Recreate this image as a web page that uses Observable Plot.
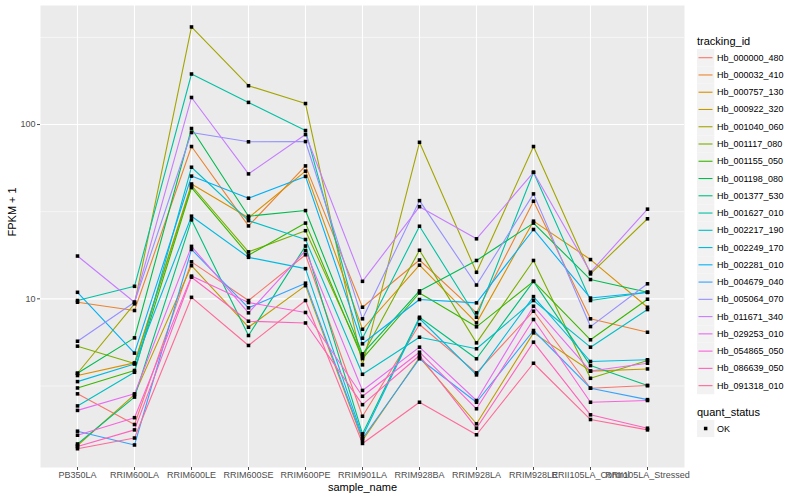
<!DOCTYPE html>
<html>
<head>
<meta charset="utf-8">
<script src="https://cdn.jsdelivr.net/npm/d3@7"></script>
<script src="https://cdn.jsdelivr.net/npm/@observablehq/plot@0.6"></script>
<style>
  html, body { margin: 0; padding: 0; background: white; }
  #wrap { position: relative; width: 800px; height: 500px; font-family: "Liberation Sans", Arial, sans-serif; }
  #plot { position: absolute; left: 0; top: 0; }
  #legend { position: absolute; left: 690px; top: 0; }
</style>
</head>
<body>
<div id="wrap"><div id="plot"></div><div id="legend"></div></div>
<script>
const samples = ["PB350LA","RRIM600LA","RRIM600LE","RRIM600SE","RRIM600PE","RRIM901LA","RRIM928BA","RRIM928LA","RRIM928LE","RRII105LA_Control","RRII105LA_Stressed"];
const ids = ["Hb_000000_480","Hb_000032_410","Hb_000757_130","Hb_000922_320","Hb_001040_060","Hb_001117_080","Hb_001155_050","Hb_001198_080","Hb_001377_530","Hb_001627_010","Hb_002217_190","Hb_002249_170","Hb_002281_010","Hb_004679_040","Hb_005064_070","Hb_011671_340","Hb_029253_010","Hb_054865_050","Hb_086639_050","Hb_091318_010"];

// FPKM + 1 per sample, one array per tracking_id
const hb_000000_480 = [2.85, 1.90, 16.3, 9.78, 17.9, 2.12, 7.12, 3.76, 8.49, 3.07, 3.18];
const hb_000032_410 = [9.56, 8.57, 74.8, 26.2, 57.9, 8.95, 16.7, 8.31, 36.3, 7.68, 6.43];
const hb_000757_130 = [3.63, 4.29, 45.6, 29.2, 54.0, 6.69, 15.6, 7.28, 27.9, 16.8, 8.95];
const hb_000922_320 = [1.44, 2.82, 15.5, 6.87, 11.9, 1.54, 4.61, 1.92, 6.38, 3.85, 3.96];
const hb_001040_060 = [3.74, 9.36, 363, 167, 132, 4.18, 79.1, 14.2, 74.8, 13.9, 28.8];
const hb_001117_080 = [5.35, 4.25, 44.7, 18.6, 24.6, 4.73, 19.0, 5.59, 16.6, 3.50, 4.43];
const hb_001155_050 = [3.08, 3.88, 43.5, 17.8, 27.2, 4.54, 10.8, 6.91, 12.6, 5.82, 9.95];
const hb_001198_080 = [3.74, 5.97, 94.9, 29.8, 32.1, 4.83, 11.1, 16.6, 27.2, 12.9, 10.9];
const hb_001377_530 = [1.47, 2.73, 28.4, 6.16, 20.1, 1.68, 7.84, 4.53, 12.6, 4.14, 3.18];
const hb_001627_010 = [9.78, 11.8, 195, 134, 92.4, 5.94, 26.1, 7.84, 53.2, 9.78, 10.9];
const hb_002217_190 = [2.43, 3.79, 56.9, 28.1, 21.9, 3.69, 6.02, 5.17, 9.78, 5.28, 8.68];
const hb_002249_170 = [3.35, 4.23, 29.8, 17.3, 14.9, 1.62, 7.71, 3.66, 10.3, 4.37, 4.47];
const hb_002281_010 = [10.9, 4.88, 50.6, 37.8, 50.4, 5.52, 9.91, 9.48, 25.0, 10.1, 10.9];
const hb_004679_040 = [1.74, 1.45, 19.2, 8.88, 12.3, 1.58, 4.53, 2.55, 6.58, 3.07, 2.64];
const hb_005064_070 = [5.71, 9.56, 90.0, 79.6, 79.9, 7.68, 36.6, 12.0, 40.0, 6.93, 12.2];
const hb_011671_340 = [17.6, 9.56, 143, 52.1, 87.6, 12.6, 33.8, 22.1, 53.2, 14.2, 32.7];
const hb_029253_010 = [2.29, 2.85, 20.0, 8.31, 18.9, 2.98, 5.28, 2.61, 9.07, 3.85, 4.27];
const hb_054865_050 = [1.65, 2.08, 13.5, 9.52, 8.35, 2.76, 4.94, 2.34, 7.61, 2.55, 2.61];
const hb_086639_050 = [1.42, 1.77, 13.3, 7.44, 7.27, 2.47, 4.73, 1.81, 5.64, 2.16, 1.81];
const hb_091318_010 = [1.38, 1.59, 10.2, 5.40, 9.78, 1.48, 2.55, 1.66, 4.27, 2.03, 1.77];

const seriesValues = [hb_000000_480, hb_000032_410, hb_000757_130, hb_000922_320, hb_001040_060, hb_001117_080, hb_001155_050, hb_001198_080, hb_001377_530, hb_001627_010, hb_002217_190, hb_002249_170, hb_002281_010, hb_004679_040, hb_005064_070, hb_011671_340, hb_029253_010, hb_054865_050, hb_086639_050, hb_091318_010];

const majorTicks = [10, 100];
const minorTicks = [Math.sqrt(10), Math.sqrt(1000), Math.sqrt(100000)];
const statusLabels = ["OK"];

// ggplot2 default hue palette (polar LUV, c=100, l=65)
function hclColor(h, c, l) {
  const WY = 100, Wu = 0.1978398, Wv = 0.4683363;
  const U = c * Math.cos(h * Math.PI / 180), V = c * Math.sin(h * Math.PI / 180);
  const Y = WY * (l > 7.999592 ? Math.pow((l + 16) / 116, 3) : l / 903.3);
  const u = U / (13 * l) + Wu, v = V / (13 * l) + Wv;
  const X = 9 * Y * u / (4 * v);
  const Z = -X / 3 - 5 * Y + 3 * Y / v;
  const g = t => { t = t > 0.00304 ? 1.055 * Math.pow(t, 1 / 2.4) - 0.055 : 12.92 * t; return Math.round(255 * Math.max(0, Math.min(1, t))); };
  const r = g((3.240479 * X - 1.537150 * Y - 0.498535 * Z) / WY);
  const gg = g((-0.969256 * X + 1.875992 * Y + 0.041556 * Z) / WY);
  const b = g((0.055648 * X - 0.204043 * Y + 1.057311 * Z) / WY);
  return d3.rgb(r, gg, b).formatHex();
}
const colors = ids.map((d, i) => hclColor(15 + 360 / ids.length * i, 100, 65));

const rows = [];
ids.forEach((id, i) => seriesValues[i].forEach((v, j) => rows.push({id, sample: samples[j], value: v, status: "OK"})));

const chart = Plot.plot({
  width: 690, height: 500,
  marginLeft: 40, marginRight: 6, marginTop: 5, marginBottom: 33,
  style: {fontFamily: "'Liberation Sans', Arial, sans-serif", background: "white"},
  x: {type: "point", domain: samples, padding: 0.6, label: null},
  y: {type: "log", domain: [1.077, 482], label: null},
  color: {domain: ids, range: colors},
  marks: [
    Plot.frame({fill: "#EBEBEB", stroke: "none"}),
    Plot.ruleY(minorTicks, {stroke: "white", strokeWidth: 0.55}),
    Plot.ruleY(majorTicks, {stroke: "white", strokeWidth: 1.1}),
    Plot.ruleX(samples, {stroke: "white", strokeWidth: 1.1}),
    Plot.line(rows, {x: "sample", y: "value", z: "id", stroke: "id", strokeWidth: 1.1}),
    Plot.dot(rows, {x: "sample", y: "value", symbol: "square", r: 2, fill: "black", stroke: "none"}),
    Plot.axisX({tickSize: 3, tickPadding: 1.5, fontSize: 9, label: null, color: "#4D4D4D"}),
    Plot.axisY({ticks: majorTicks, tickFormat: d => String(d), tickSize: 3, tickPadding: 2, fontSize: 9, label: null, color: "#4D4D4D"}),
    Plot.text(["sample_name"], {text: d => d, frameAnchor: "bottom", dy: 23, fontSize: 11, fill: "black"}),
    Plot.text(["FPKM + 1"], {text: d => d, frameAnchor: "left", dx: -28, rotate: -90, fontSize: 11, fill: "black"})
  ]
});
document.getElementById("plot").appendChild(chart);

// Legend
const step = 17.26;
const svg = d3.select("#legend").append("svg").attr("width", 110).attr("height", 500)
  .style("font-family", "'Liberation Sans', Arial, sans-serif");
svg.append("text").attr("x", 7).attr("y", 40.5).attr("dominant-baseline", "central")
  .attr("font-size", 11).text("tracking_id");
ids.forEach((id, i) => {
  const cy = 57.7 + i * step;
  svg.append("rect").attr("x", 7).attr("y", cy - step / 2).attr("width", 17.3).attr("height", step).attr("fill", "#F2F2F2");
  svg.append("line").attr("x1", 8.5).attr("x2", 22.5).attr("y1", cy).attr("y2", cy).attr("stroke", colors[i]).attr("stroke-width", 1.1);
  svg.append("text").attr("x", 27).attr("y", cy).attr("dominant-baseline", "central").attr("font-size", 9).text(id);
});
svg.append("text").attr("x", 7).attr("y", 411.7).attr("dominant-baseline", "central")
  .attr("font-size", 11).text("quant_status");
statusLabels.forEach((s, i) => {
  const cy = 428.5 + i * step;
  svg.append("rect").attr("x", 7).attr("y", cy - step / 2).attr("width", 17.3).attr("height", step).attr("fill", "#F2F2F2");
  svg.append("rect").attr("x", 13.9).attr("y", cy - 1.75).attr("width", 3.5).attr("height", 3.5).attr("fill", "black");
  svg.append("text").attr("x", 27).attr("y", cy).attr("dominant-baseline", "central").attr("font-size", 9).text(s);
});
</script>
</body>
</html>
